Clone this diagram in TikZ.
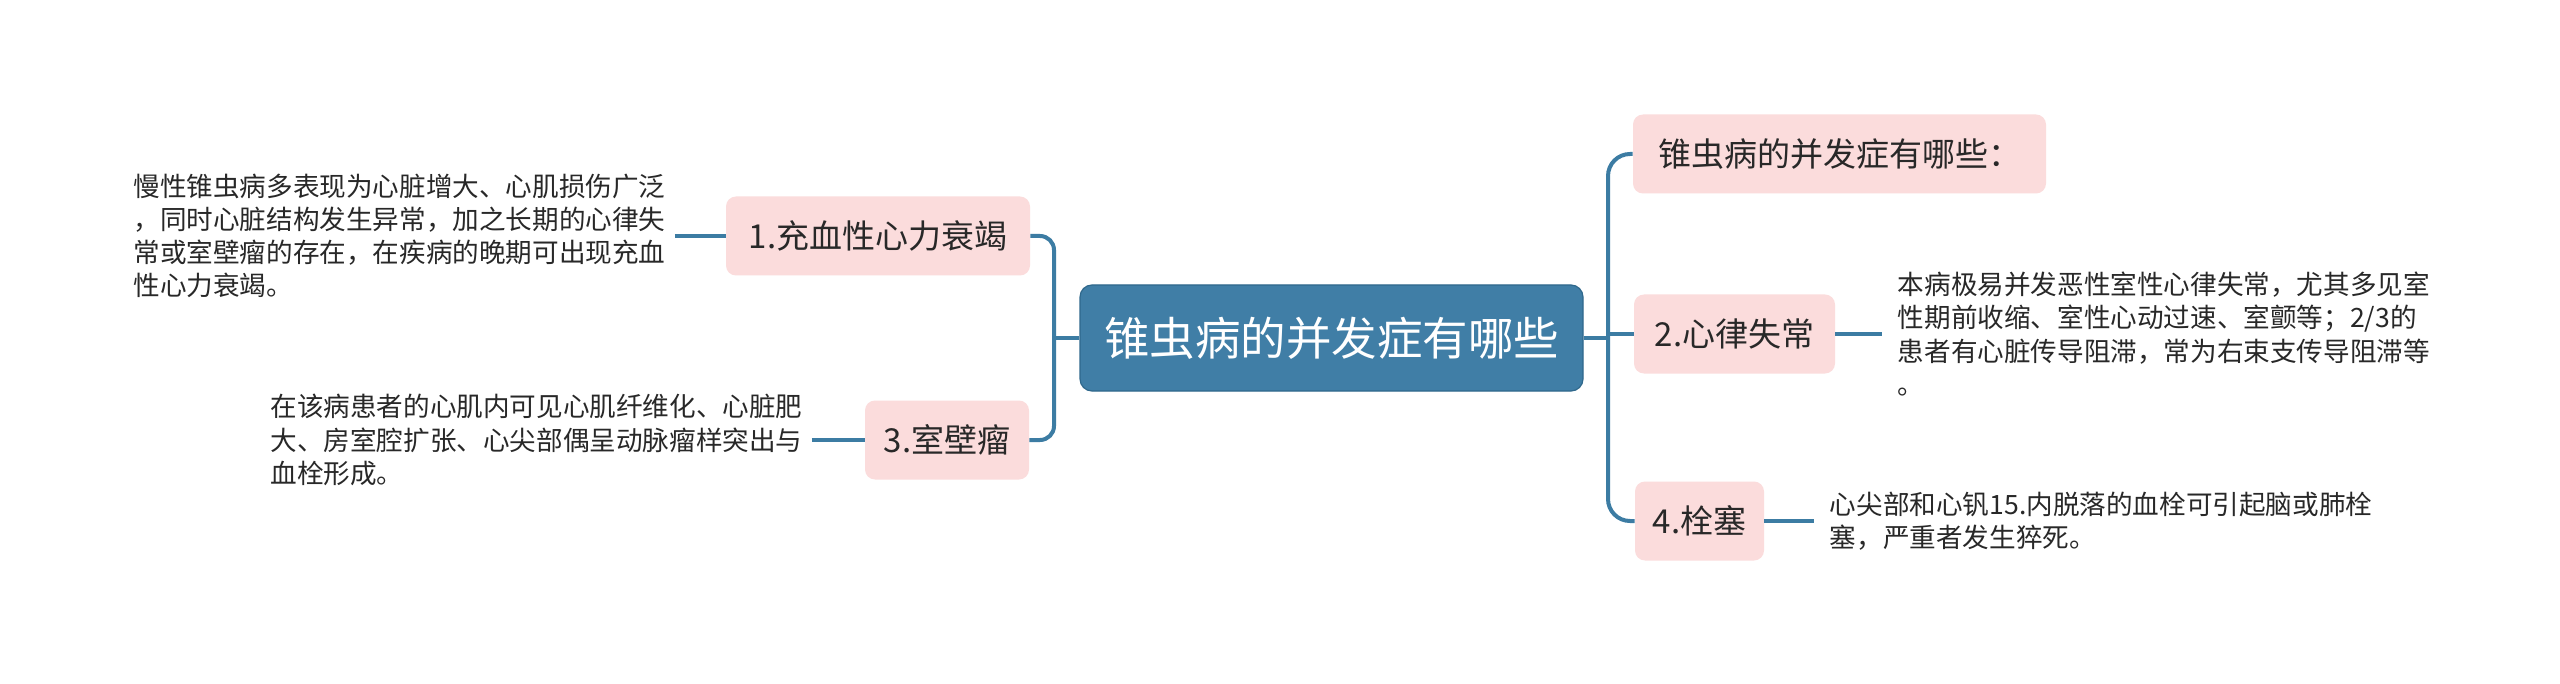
\documentclass[tikz,border=0pt]{standalone}
\usepackage{fontspec}
\setmainfont{Noto Sans CJK SC}
\definecolor{rootfill}{RGB}{64,126,166}
\definecolor{rootborder}{RGB}{47,104,140}
\definecolor{pinkfill}{RGB}{251,220,220}
\definecolor{linkc}{RGB}{60,124,163}
\definecolor{txt}{RGB}{40,40,40}
\begin{document}
\begin{tikzpicture}[x=0.5pt,y=-0.5pt,
  root/.style={draw=rootborder, line width=0.6pt, fill=rootfill, rounded corners=6pt,
    text=white, font=\fontsize{22.75}{27}\selectfont, minimum width=251.5pt,
    minimum height=53pt, inner sep=0pt},
  topic/.style={fill=pinkfill, rounded corners=5pt, text=txt,
    font=\fontsize{16.5}{20}\selectfont, minimum height=39.5pt, inner sep=0pt},
  descl/.style={text=txt, align=left, font=\fontsize{13.3}{16.6}\selectfont,
    inner xsep=4.5pt, inner ysep=0pt, anchor=west},
  descr/.style={descl, inner xsep=7.75pt},
  link/.style={draw=linkc, line width=2pt},
  trunkl/.style={link, rounded corners=7pt},
  trunkr/.style={link, rounded corners=11pt}]
\useasboundingbox (0,0) rectangle (2560,684);
\fill[white] (0,0) rectangle (2560,684);

\node[root] (root) at (1331.5,338) {锥虫病的并发症有哪些};

\node[topic, minimum width=152pt] (n1) at (878,236) {1.充血性心力衰竭};
\node[topic, minimum width=82pt] (n3) at (947,440) {3.室壁瘤};
\node[topic, minimum width=206.5pt] (nt) at (1839.5,154) {锥虫病的并发症有哪些：};
\node[topic, minimum width=100.5pt] (n2) at (1734.5,334) {2.心律失常};
\node[topic, minimum width=64.5pt] (n4) at (1699.5,521) {4.栓塞};

\node[descl] (d1) at (124,236) {慢性锥虫病多表现为心脏增大、心肌损伤广泛\\，同时心脏结构发生异常，加之长期的心律失\\常或室壁瘤的存在，在疾病的晚期可出现充血\\性心力衰竭。};
\node[descl] (d3) at (261,440) {在该病患者的心肌内可见心肌纤维化、心脏肥\\大、房室腔扩张、心尖部偶呈动脉瘤样突出与\\血栓形成。};
\node[descr] (d2) at (1882,334) {本病极易并发恶性室性心律失常，尤其多见室\\性期前收缩、室性心动过速、室颤等；2/3的\\患者有心脏传导阻滞，常为右束支传导阻滞等\\。};
\node[descr] (d4) at (1814,521) {心尖部和心钒15.内脱落的血栓可引起脑或肺栓\\塞，严重者发生猝死。};

\coordinate (lj) at (1054,338);
\coordinate (rj) at (1608,338);

\draw[link] (root.west) -- (lj);
\draw[trunkl] (lj) |- (n1.east);
\draw[trunkl] (lj) |- (n3.east);

\draw[link] (root.east) -- (rj);
\draw[trunkr] (rj) |- (nt.west);
\draw[trunkr] (rj) |- (n4.west);
\draw[link] (rj |- n2.west) -- (n2.west);

\draw[link] (d1.east) -- (n1.west);
\draw[link] (d3.east) -- (n3.west);
\draw[link] (n2.east) -- (d2.west);
\draw[link] (n4.east) -- (d4.west);
\end{tikzpicture}
\end{document}
